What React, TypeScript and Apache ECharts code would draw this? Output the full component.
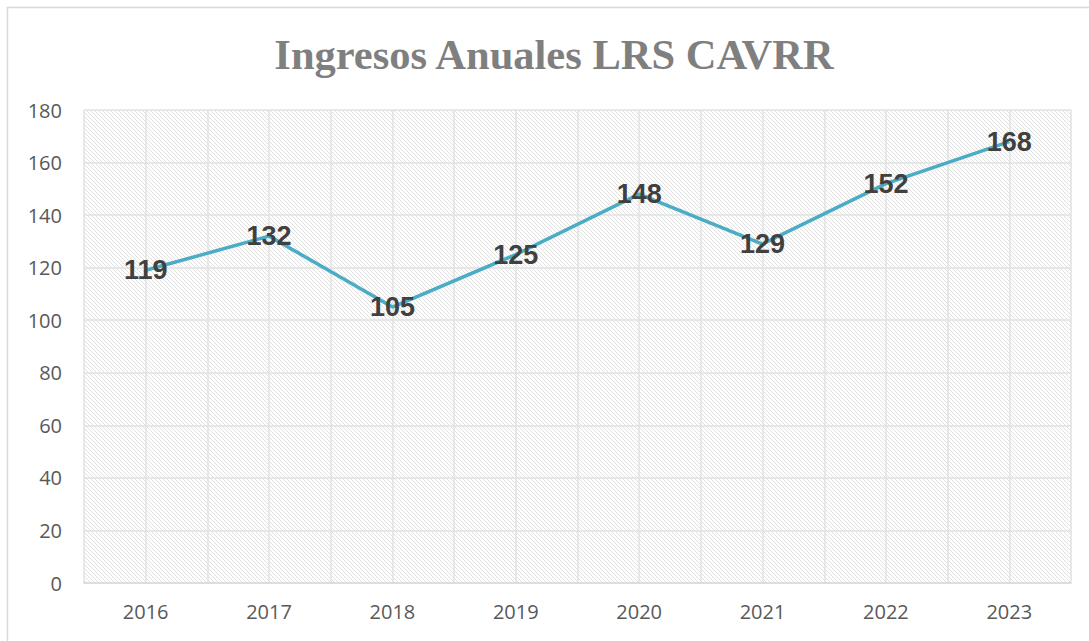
import React, { useEffect, useRef } from "react";
import * as echarts from "echarts";

const titleText = "Ingresos Anuales LRS CAVRR";
const years = ["2016", "2017", "2018", "2019", "2020", "2021", "2022", "2023"];
const ingresos = [119, 132, 105, 125, 148, 129, 152, 168];
const yMin = 0;
const yMax = 180;
const yStep = 20;

function makePattern(): string {
  const c = document.createElement("canvas");
  c.width = 8;
  c.height = 8;
  const ctx = c.getContext("2d")!;
  ctx.fillStyle = "#ffffff";
  ctx.fillRect(0, 0, 8, 8);
  ctx.fillStyle = "#e0e0e0";
  for (let y = 0; y < 8; y++) {
    for (let x = 0; x < 8; x++) {
      if ((x - y + 16) % 4 === 0) ctx.fillRect(x, y, 1, 1);
    }
  }
  return c.toDataURL("image/png");
}

export default function App() {
  const ref = useRef<HTMLDivElement>(null);
  useEffect(() => {
    if (!ref.current) return;
    const chart = echarts.init(ref.current, undefined, { renderer: "svg" });
    const pat = makePattern();
    chart.setOption({
      animation: false,
      backgroundColor: "#ffffff",
      graphic: [
        {
          type: "rect",
          shape: { x: 7.5, y: 7.5, width: 1200, height: 800 },
          style: { fill: "none", stroke: "#d9d9d9", lineWidth: 1.5 },
          silent: true,
        },
        {
          type: "text",
          x: 554,
          y: 54,
          style: {
            text: titleText,
            fill: "#7f7f7f",
            font: "bold 42.5px 'Liberation Serif', serif",
            textAlign: "center",
            textVerticalAlign: "middle",
          },
        },
      ],
      grid: {
        left: 84,
        top: 110,
        right: 18,
        bottom: 58,
        show: true,
        borderWidth: 0,
        backgroundColor: { image: pat, repeat: "repeat" },
      },
      xAxis: [
        {
          type: "category",
          data: years,
          boundaryGap: true,
          axisLine: { show: true, lineStyle: { color: "#d9d9d9", width: 1.5 } },
          axisTick: { show: false },
          axisLabel: {
            color: "#595959",
            fontSize: 20,
            fontFamily: "'Open Sans', sans-serif",
            margin: 18,
          },
          splitLine: { show: false },
        },
        {
          type: "value",
          min: 0,
          max: 16,
          interval: 1,
          show: true,
          axisLine: { show: false },
          axisTick: { show: false },
          axisLabel: { show: false },
          splitLine: { show: true, lineStyle: { color: "#e2e2e2", width: 1.5 } },
        },
      ],
      yAxis: {
        type: "value",
        min: yMin,
        max: yMax,
        interval: yStep,
        axisLine: { show: false },
        axisTick: { show: false },
        axisLabel: {
          color: "#595959",
          fontSize: 20,
          fontFamily: "'Open Sans', sans-serif",
          margin: 22,
        },
        splitLine: { show: true, lineStyle: { color: "#e2e2e2", width: 1.5 } },
      },
      series: [
        {
          type: "line",
          data: ingresos,
          xAxisIndex: 0,
          yAxisIndex: 0,
          symbol: "circle",
          symbolSize: 0.1,
          showSymbol: true,
          lineStyle: { color: "#4bacc6", width: 3.5 },
          itemStyle: { color: "#4bacc6" },
          label: {
            show: true,
            position: "inside",
            color: "#404040",
            fontSize: 27,
            fontWeight: "bold",
            fontFamily: "'Liberation Sans', sans-serif",
          },
          z: 5,
        },
      ],
    });
    return () => chart.dispose();
  }, []);
  return (
    <div
      ref={ref}
      style={{ position: "fixed", left: 0, top: 0, width: 1089, height: 641 }}
    />
  );
}
